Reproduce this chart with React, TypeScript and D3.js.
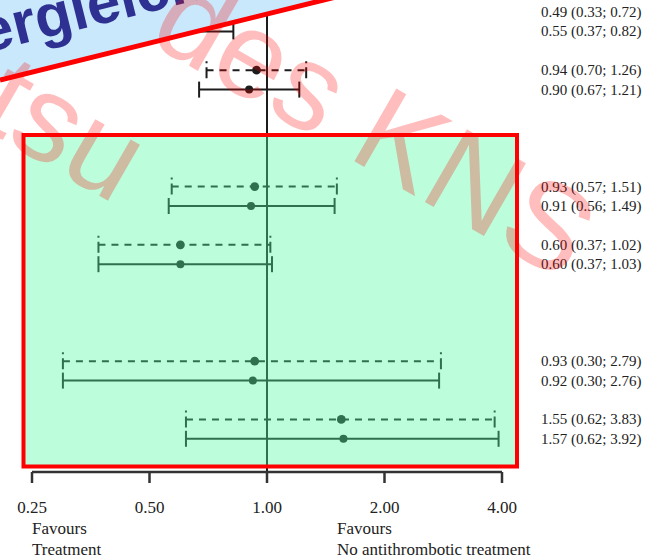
import React from 'react';
import * as d3 from 'd3';

// each subgroup has two estimates: dashed row on top, solid row below
const dashedEst = [0.49, 0.94, 0.93, 0.60, 0.93, 1.55];
const dashedLo = [0.33, 0.70, 0.57, 0.37, 0.30, 0.62];
const dashedHi = [0.72, 1.26, 1.51, 1.02, 2.79, 3.83];
const solidEst = [0.55, 0.90, 0.91, 0.60, 0.92, 1.57];
const solidLo = [0.37, 0.67, 0.56, 0.37, 0.30, 0.62];
const solidHi = [0.82, 1.21, 1.49, 1.03, 2.76, 3.92];
// table row of the dashed estimate in each subgroup (label rows in between are empty)
const tableRow = [0, 3, 9, 12, 18, 21];
const tickValues = [0.25, 0.5, 1, 2, 4];
const tickLabels = ['0.25', '0.50', '1.00', '2.00', '4.00'];

const fmt = (v: number) => v.toFixed(2);

const App = () => {
  const width = 654;
  const height = 559;
  const svgRef = React.useRef<SVGSVGElement>(null);

  React.useEffect(() => {
    const svg = d3.select(svgRef.current);
    svg.selectAll('*').remove();

    const x = d3.scaleLog().base(2).domain([0.25, 4]).range([32, 502]);
    const y = d3.scaleLinear().domain([0, 22]).range([12, 438.8]);
    const axisY = 472;
    const ink = '#1c1c1c';

    svg.append('rect').attr('width', width).attr('height', height).attr('fill', '#fff');

    // reference line at 1
    svg.append('line')
      .attr('x1', x(1)).attr('x2', x(1))
      .attr('y1', 0).attr('y2', axisY)
      .attr('stroke', ink).attr('stroke-width', 2);

    const rows: any[] = [];
    tableRow.forEach((r, i) => {
      rows.push({ row: r, est: dashedEst[i], lo: dashedLo[i], hi: dashedHi[i], dashed: true });
      rows.push({ row: r + 1, est: solidEst[i], lo: solidLo[i], hi: solidHi[i], dashed: false });
    });

    const g = svg.selectAll('g.row').data(rows).enter().append('g').attr('class', 'row');

    g.append('line')
      .attr('x1', (d: any) => x(d.lo)).attr('x2', (d: any) => x(d.hi))
      .attr('y1', (d: any) => y(d.row)).attr('y2', (d: any) => y(d.row))
      .attr('stroke', ink).attr('stroke-width', 2)
      .attr('stroke-dasharray', (d: any) => (d.dashed ? '7 6' : null));

    ['lo', 'hi'].forEach((k) => {
      g.append('line')
        .attr('x1', (d: any) => x(d[k])).attr('x2', (d: any) => x(d[k]))
        .attr('y1', (d: any) => y(d.row) - (d.dashed ? 9 : 8))
        .attr('y2', (d: any) => y(d.row) + 8)
        .attr('stroke', ink).attr('stroke-width', 2)
        .attr('stroke-dasharray', (d: any) => (d.dashed ? '2 4 11' : null));
    });

    g.append('circle')
      .attr('cx', (d: any) => x(d.est)).attr('cy', (d: any) => y(d.row))
      .attr('r', (d: any) => (d.dashed ? 4.4 : 4)).attr('fill', ink);

    g.append('text')
      .attr('x', 541).attr('y', (d: any) => y(d.row) + 5)
      .attr('font-family', '"Liberation Serif", serif').attr('font-size', 15)
      .attr('fill', '#222')
      .text((d: any) => `${fmt(d.est)} (${fmt(d.lo)}; ${fmt(d.hi)})`);

    // x axis
    svg.append('line')
      .attr('x1', x(0.25)).attr('x2', x(4))
      .attr('y1', axisY).attr('y2', axisY)
      .attr('stroke', '#333').attr('stroke-width', 2.5);
    const t = svg.selectAll('g.tick').data(tickValues).enter().append('g').attr('class', 'tick');
    t.append('line')
      .attr('x1', (d) => x(d)).attr('x2', (d) => x(d))
      .attr('y1', axisY).attr('y2', axisY + 11)
      .attr('stroke', '#333').attr('stroke-width', 2.5);
    t.append('text')
      .attr('x', (d) => x(d)).attr('y', axisY + 41)
      .attr('text-anchor', 'middle')
      .attr('font-family', '"Liberation Serif", serif').attr('font-size', 17)
      .attr('fill', '#222')
      .text((d, i) => tickLabels[i]);

    const note = (tx: number, lines: string[]) => {
      lines.forEach((s, i) => {
        svg.append('text')
          .attr('x', tx).attr('y', axisY + 62 + i * 21)
          .attr('font-family', '"Liberation Serif", serif').attr('font-size', 17)
          .attr('fill', '#222').text(s);
      });
    };
    note(x(0.25), ['Favours', 'Treatment']);
    note(337, ['Favours', 'No antithrombotic treatment']);

    // highlighted area
    svg.append('rect')
      .attr('x', 23.5).attr('y', 135).attr('width', 493.5).attr('height', 331.5)
      .attr('fill', 'rgba(80,250,160,0.38)')
      .attr('stroke', '#ff0000').attr('stroke-width', 4);

    // corner banner
    svg.append('polygon')
      .attr('points', '0,0 330,0 0,80')
      .attr('fill', '#c9e8fb');
    svg.append('text')
      .attr('transform', 'translate(-51,62) rotate(-14)')
      .attr('font-family', '"Liberation Sans", Arial, sans-serif')
      .attr('font-weight', 'bold').attr('font-size', 60)
      .attr('fill', '#2e3192')
      .text('Vergleich');
    svg.append('line')
      .attr('x1', 0).attr('y1', 80).attr('x2', 336).attr('y2', -3)
      .attr('stroke', '#ff0000').attr('stroke-width', 5);

    // watermark
    const wm = svg.append('g')
      .attr('font-family', '"Liberation Sans", Arial, sans-serif')
      .attr('font-size', 122)
      .attr('fill', 'rgba(255,0,0,0.26)');
    wm.append('text')
      .attr('transform', 'translate(115,205) rotate(30)')
      .attr('text-anchor', 'end')
      .text('tsu');
    wm.append('text')
      .attr('transform', 'translate(146,41) rotate(30)')
      .text('des KNS');
  }, []);

  return (
    <div>
      <svg
        ref={svgRef}
        width={width}
        height={height}
        style={{ position: 'absolute', left: 0, top: 0 }}
      />
    </div>
  );
};

export default App;
